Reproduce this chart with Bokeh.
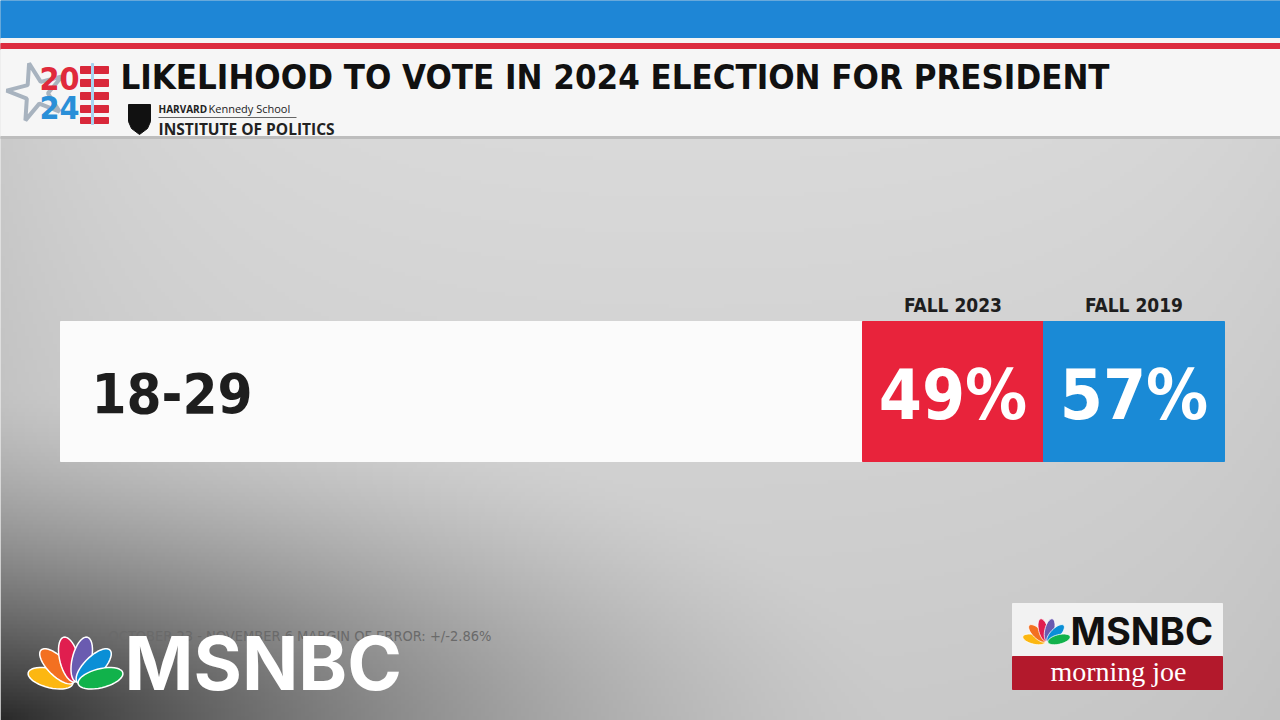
import numpy as np
from bokeh.plotting import figure
from bokeh.models import Range1d, ColumnDataSource
from bokeh.core.properties import value
from bokeh.embed import file_html
from bokeh.resources import INLINE

# ---------------- data ----------------
title = "LIKELIHOOD TO VOTE IN 2024 ELECTION FOR PRESIDENT"
categories = ["18-29"]
series = ["FALL 2023", "FALL 2019"]
fall_2023 = [49]
fall_2019 = [57]
series_colors = ["#e8233b", "#1a8ad6"]
footnote = "OCTOBER 23 - NOVEMBER 6 MARGIN OF ERROR: +/-2.86%"

W, H = 1280, 720
COND = "DejaVu Sans Condensed"
GEO = "Inter"

p = figure(width=W, height=H, x_range=Range1d(0, W), y_range=Range1d(H, 0),
           output_backend="svg", toolbar_location=None, min_border=0)
p.axis.visible = False
p.grid.visible = False
p.outline_line_color = None
p.background_fill_color = "#d2d2d2"
p.border_fill_color = "#d2d2d2"

# ---------------- background gradient ----------------
ny, nx = 180, 320
yy = (np.arange(ny) + 0.5) * H / ny
xx = (np.arange(nx) + 0.5) * W / nx
X, Y = np.meshgrid(xx, yy)
d = np.sqrt((X / 900.0) ** 2 + ((H - Y) / 330.0) ** 2)
dark = 145 * (1 - np.clip(d, 0, 1)) ** 1.5
shade = 218 - dark - 16 * np.exp(-X / 160.0) - 8 * np.exp(-(W - X) / 160.0) \
    - 16 * np.clip((Y - 140) / 580.0, 0, 1)
shade = np.clip(shade, 0, 255).astype(np.uint8)
img = np.empty((ny, nx), dtype=np.uint32)
view = img.view(dtype=np.uint8).reshape((ny, nx, 4))
view[..., 0] = shade
view[..., 1] = shade
view[..., 2] = shade
view[..., 3] = 255
p.image_rgba(image=[img], x=0, y=0, dw=W, dh=H)

# ---------------- header ----------------
p.quad(left=0, right=W, top=0, bottom=38, color="#1e86d6")
p.quad(left=0, right=W, top=38, bottom=43, color="#f4f4f4")
p.quad(left=0, right=W, top=43, bottom=49, color="#dc2b3e")
p.quad(left=0, right=W, top=49, bottom=136, color="#f6f6f6")
p.quad(left=0, right=W, top=136, bottom=138, color="#bdbdbd")

# 2024 logo
p.scatter(x=[36], y=[92], marker="star", size=60, fill_color=None,
          line_color="#a8b3bf", line_width=4, angle=0.25)
p.quad(left=[80] * 5, right=[108] * 5, top=[66, 79, 92, 105, 117],
       bottom=[73, 86, 99, 112, 123], color="#d9283a")
p.quad(left=91, right=93, top=63, bottom=124, color="#a7d2ef")
p.text(x=[59], y=[78], text=["20"], text_font=value(COND), text_font_style="bold",
       text_font_size="32px", text_color="#e02a3b", text_align="center", text_baseline="middle")
p.text(x=[59], y=[107], text=["24"], text_font=value(COND), text_font_style="bold",
       text_font_size="32px", text_color="#2a8fd8", text_align="center", text_baseline="middle")

# title
p.text(x=[120], y=[76], text=[title], text_font=value(COND), text_font_style="bold",
       text_font_size="34.5px", text_color="#111111", text_align="left", text_baseline="middle")

# Harvard shield + texts
p.patch(x=[128, 150, 150, 147, 139, 131, 128], y=[104, 104, 121, 128, 134, 128, 121], color="#111111")
p.text(x=[158], y=[108], text=["HARVARD"], text_font=value("Open Sans"), text_font_style="bold",
       text_font_size="10px", text_color="#222222", text_align="left", text_baseline="middle")
p.text(x=[208], y=[108], text=["Kennedy School"], text_font=value("Open Sans"),
       text_font_size="11px", text_color="#222222", text_align="left", text_baseline="middle")
p.segment(x0=[158], y0=[117], x1=[296], y1=[117], line_color="#666666", line_width=1)
p.text(x=[158], y=[128], text=["INSTITUTE OF POLITICS"], text_font=value("Open Sans"),
       text_font_style="bold", text_font_size="15.5px", text_color="#222222",
       text_align="left", text_baseline="middle")

# ---------------- the row ----------------
ROW_LEFT, ROW_TOP, ROW_BOTTOM, LABEL_RIGHT, CELL_W = 60, 321, 461, 862, 181
row_vals = [fall_2023, fall_2019]
for ci, cat in enumerate(categories):
    top = ROW_TOP + ci * 160
    bottom = ROW_BOTTOM + ci * 160
    p.quad(left=ROW_LEFT, right=LABEL_RIGHT, top=top, bottom=bottom, color="#fbfbfb")
    p.text(x=[ROW_LEFT + 31], y=[(top + bottom) / 2 + 1], text=[cat], text_font=value(COND),
           text_font_style="bold", text_font_size="56px", text_color="#1e1e1e",
           text_align="left", text_baseline="middle")
    lefts = [LABEL_RIGHT + i * CELL_W for i in range(len(series))]
    src = ColumnDataSource(dict(
        left=lefts, right=[l + CELL_W for l in lefts],
        top=[top] * len(series), bottom=[bottom] * len(series),
        cx=[l + CELL_W / 2 for l in lefts], cy=[(top + bottom) / 2 + 3] * len(series),
        label=[f"{v[ci]}%" for v in row_vals], color=series_colors, name=series))
    p.quad(left="left", right="right", top="top", bottom="bottom", color="color", source=src)
    p.text(x="cx", y="cy", text="label", source=src, text_font=value(COND), text_font_style="bold",
           text_font_size="69px", text_color="#ffffff", text_align="center", text_baseline="middle")
    if ci == 0:
        hsrc = ColumnDataSource(dict(x=[l + CELL_W / 2 for l in lefts],
                                     y=[top - 17] * len(series), t=series))
        p.text(x="x", y="y", text="t", source=hsrc, text_font=value(COND), text_font_style="bold",
               text_font_size="19px", text_color="#1e1e1e", text_align="center",
               text_baseline="middle")

# footnote
p.text(x=[108], y=[635], text=[footnote], text_font=value(COND), text_font_size="14.5px",
       text_color="#6a6a6a", text_align="left", text_baseline="middle")


# ---------------- peacock helper ----------------
def peacock(bx, by, s):
    angs = [166, 135, 104, 76, 45, 14]
    cols = ["#fcb711", "#f37021", "#e01e4f", "#6a5bb0", "#0a8fd6", "#11b24b"]
    L, w = 46 * s, 9.5 * s
    t = np.linspace(0, 2 * np.pi, 40)
    xs, ys = [], []
    for a in angs:
        r = np.radians(a)
        ux, uy = np.cos(r), -np.sin(r)
        vx, vy = -uy, ux
        cx, cy = bx + ux * L * 0.56, by + uy * L * 0.56
        xs.append(list(cx + 0.5 * L * np.cos(t) * ux + w * np.sin(t) * vx))
        ys.append(list(cy + 0.5 * L * np.cos(t) * uy + w * np.sin(t) * vy))
    return xs, ys, cols


# big MSNBC watermark
xs, ys, cols = peacock(75, 684, 1.0)
p.patches(xs=xs, ys=ys, fill_color=cols, line_color="#ffffff", line_width=1.5)
p.text(x=[124], y=[662], text=["MSNBC"], text_font=value(GEO), text_font_style="bold",
       text_font_size="74px", text_color="#ffffff", text_align="left", text_baseline="middle")

# morning joe bug
p.quad(left=1012, right=1222, top=603, bottom=656, color="#f2f2f2")
p.quad(left=1012, right=1222, top=656, bottom=689, color="#b3192c")
xs, ys, cols = peacock(1046, 642, 0.5)
p.patches(xs=xs, ys=ys, fill_color=cols, line_color="#ffffff", line_width=0.8)
p.text(x=[1070], y=[630], text=["MSNBC"], text_font=value(GEO), text_font_style="bold",
       text_font_size="38px", text_color="#111111", text_align="left", text_baseline="middle")
p.text(x=[1118], y=[671], text=["morning joe"], text_font=value("Liberation Serif"),
       text_font_size="28px", text_color="#ffffff", text_align="center", text_baseline="middle")

open("out.html", "w").write(file_html(p, INLINE))
